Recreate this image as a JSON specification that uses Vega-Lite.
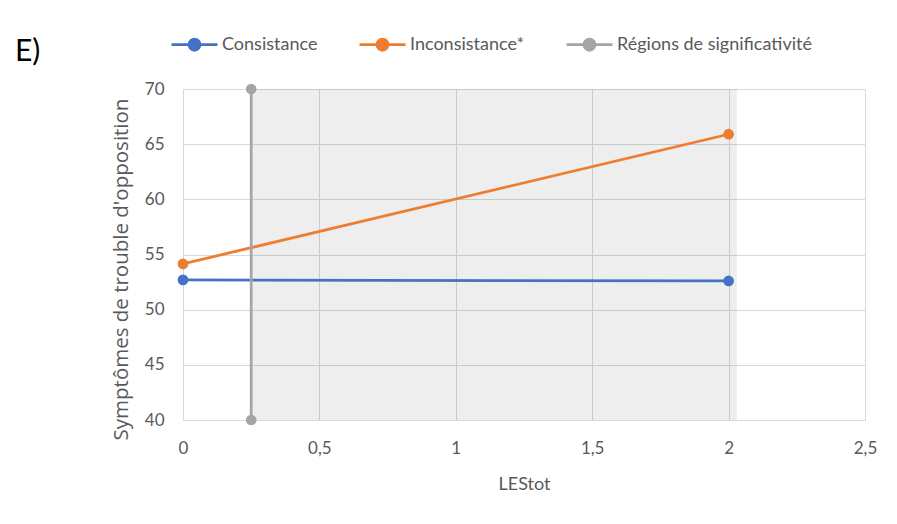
{
  "$schema": "https://vega.github.io/schema/vega-lite/v6.json",
  "width": 682,
  "height": 331,
  "autosize": "none",
  "padding": {"left": 183, "top": 89, "right": 32, "bottom": 104},
  "background": "white",
  "config": {
    "font": "Lato",
    "view": {"stroke": null}
  },
  "title": {
    "text": "E)",
    "anchor": "start",
    "frame": "group",
    "fontSize": 30,
    "font": "Lato",
    "fontWeight": "normal",
    "color": "#000000",
    "dx": -168,
    "dy": 57,
    "baseline": "top",
    "offset": 10
  },
  "encoding": {
    "x": {
      "field": "x",
      "type": "quantitative",
      "scale": {"domain": [0, 2.5], "nice": false},
      "axis": {
        "title": "LEStot",
        "values": [0, 0.5, 1, 1.5, 2, 2.5],
        "format": ".1~f",
        "labelExpr": "replace(datum.label, '.', ',')",
        "labelFlush": false,
        "ticks": false,
        "domainColor": "#D9D9D9",
        "gridColor": "#D9D9D9",
        "labelColor": "#595959",
        "labelFontSize": 17,
        "labelPadding": 20,
        "titleFontSize": 18,
        "titleFontWeight": "normal",
        "titleColor": "#595959",
        "titlePadding": 19
      }
    },
    "y": {
      "field": "y",
      "type": "quantitative",
      "scale": {"domain": [40, 70], "nice": false, "zero": false},
      "axis": {
        "title": "Symptômes de trouble d'opposition",
        "values": [40, 45, 50, 55, 60, 65, 70],
        "format": "d",
        "ticks": false,
        "domainColor": "#D9D9D9",
        "gridColor": "#D9D9D9",
        "labelColor": "#595959",
        "labelFontSize": 17,
        "labelPadding": 19,
        "titleFont": "Open Sans",
        "titleFontSize": 20.5,
        "titleFontWeight": "normal",
        "titleColor": "#595959",
        "titleX": -52,
        "titleY": 180
      }
    }
  },
  "layer": [
    {
      "data": {"values": [
        {"x": 0.25, "x2": 2, "y": 40, "y2": 70},
        {"x": 2, "x2": 2.03, "y": 40, "y2": 70}
      ]},
      "mark": {"type": "rect", "fill": "#000000", "opacity": 0.067},
      "encoding": {
        "x2": {"field": "x2"},
        "y2": {"field": "y2"}
      }
    },
    {
      "data": {"values": [
        {"serie": "Consistance", "x": 0, "y": 52.7},
        {"serie": "Consistance", "x": 2, "y": 52.6},
        {"serie": "Inconsistance*", "x": 0, "y": 54.15},
        {"serie": "Inconsistance*", "x": 2, "y": 65.9},
        {"serie": "Régions de significativité", "x": 0.25, "y": 40},
        {"serie": "Régions de significativité", "x": 0.25, "y": 70}
      ]},
      "mark": {"type": "line", "strokeWidth": 2.75, "point": {"filled": true, "size": 115, "opacity": 1}},
      "encoding": {
        "color": {
          "field": "serie",
          "type": "nominal",
          "scale": {
            "domain": ["Consistance", "Inconsistance*", "Régions de significativité"],
            "range": ["#4472C4", "#ED7D31", "#A5A5A5"]
          },
          "legend": {
            "orient": "none",
            "legendX": -13,
            "legendY": -69,
            "direction": "horizontal",
            "title": null,
            "symbolType": "M-1,0H-0.24A0.24,0.24,0,1,1,0.24,0H1M0.24,0A0.24,0.24,0,1,1,-0.24,0",
            "symbolSize": 2116,
            "symbolStrokeWidth": 2.75,
            "labelFontSize": 18,
            "labelLimit": 400,
            "labelColor": "#595959",
            "labelOffset": 3,
            "columnPadding": 36,
            "encode": {
              "symbols": {"update": {"fill": {"scale": "color", "field": "value"}, "opacity": {"value": 1}}}
            }
          }
        }
      }
    }
  ]
}
